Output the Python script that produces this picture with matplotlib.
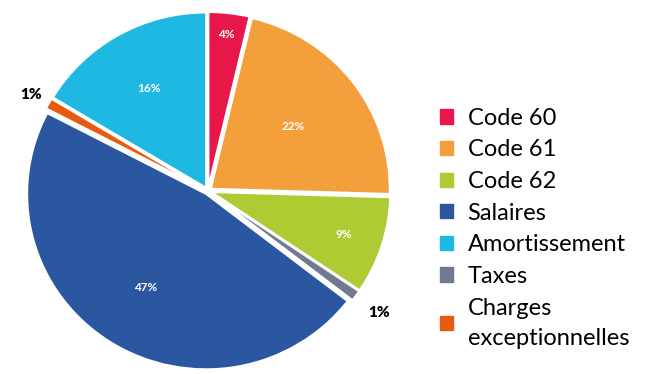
import matplotlib.pyplot as plt
from matplotlib.patches import Patch
import numpy as np

# slice order clockwise from 12 o'clock
labels = ['Code 60', 'Code 61', 'Code 62', 'Taxes', 'Salaires',
          'Charges exceptionnelles', 'Amortissement']
values = [3.7, 21.8, 9, 1, 47.2, 1, 16.4]
pct_text = ['4%', '22%', '9%', '1%', '47%', '1%', '16%']
colors = ['#E8174A', '#F29F3C', '#AECB33', '#6F7A8F', '#2B57A0', '#E85B0F', '#1FB8E2']

legend_order = ['Code 60', 'Code 61', 'Code 62', 'Salaires', 'Amortissement',
                'Taxes', 'Charges exceptionnelles']
legend_text = {'Charges exceptionnelles': 'Charges\nexceptionnelles'}

plt.rcParams['font.family'] = ['Lato', 'DejaVu Sans']

fig = plt.figure(figsize=(6.53, 3.74), dpi=100)
ax = fig.add_axes([0.039, 0.011, 0.559, 0.957])

wedges, _ = ax.pie(values, colors=colors, startangle=90, counterclock=False,
                   explode=[0.02] * len(values),
                   wedgeprops=dict(edgecolor='white', linewidth=1.5))
ax.set_xlim(-1.02, 1.02)
ax.set_ylim(-1.02, 1.02)
ax.set_aspect('auto')

# label distance per slice (inside), small slices go outside
dist = [0.9, 0.6, 0.8, 1.18, 0.65, 1.13, 0.67]
for w, txt, d, v in zip(wedges, pct_text, dist, values):
    mid = np.deg2rad((w.theta1 + w.theta2) / 2)
    x, y = d * np.cos(mid), d * np.sin(mid)
    if v > 2:
        ax.text(x, y, txt, ha='center', va='center', color='white',
                fontsize=8.5, fontweight='bold')
    else:
        ax.text(x, y, txt, ha='center', va='center', color='black',
                fontsize=11, fontweight='heavy')

handles = [Patch(color=colors[labels.index(n)]) for n in legend_order]
names = [legend_text.get(n, n) for n in legend_order]
leg = fig.legend(handles, names, loc='upper left', bbox_to_anchor=(0.660, 0.737),
                 frameon=False, fontsize=17, handlelength=0.55, handleheight=0.55,
                 handletextpad=0.6, labelspacing=0.45, borderaxespad=0)
for t in leg.get_texts():
    t.set_linespacing(1.55)

fig.savefig('out.png', dpi=100)
